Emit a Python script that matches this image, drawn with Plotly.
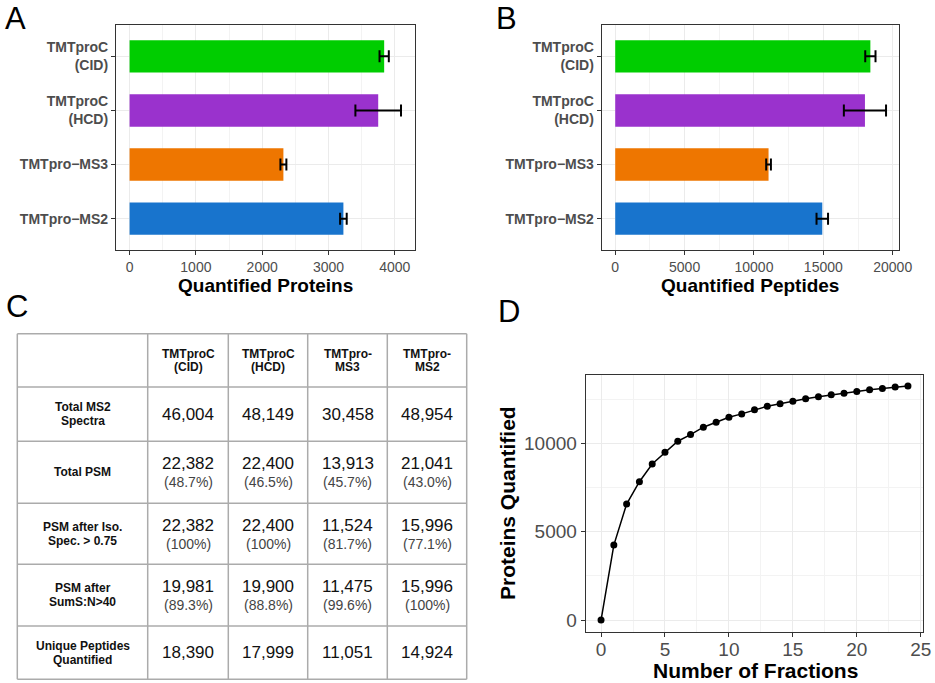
import plotly.graph_objects as go

W, H = 935, 683
def px(x):
    return x / W
def py(y):
    return 1 - y / H

FONT = "Liberation Sans, Arial, sans-serif"
GREY30 = "#4d4d4d"

# ---------------- data ----------------
methods = ["TMTpro−MS2", "TMTpro−MS3", "TMTproC<br>(HCD)", "TMTproC<br>(CID)"]
bar_colors = ["#1874CD", "#EE7600", "#9A32CD", "#00CD00"]
proteins_mean = [3225, 2320, 3750, 3840]
proteins_sd = [50, 45, 344, 70]
peptides_mean = [14924, 11051, 17999, 18390]
peptides_sd = [415, 170, 1520, 370]

fractions = list(range(25))
proteins_cum = [0, 4240, 6560, 7823, 8827, 9490, 10113, 10488, 10907, 11191,
                11474, 11661, 11888, 12097, 12228, 12381, 12511, 12625, 12738,
                12834, 12925, 13022, 13095, 13175, 13231]

table_header = [["TMTproC", "(CID)"], ["TMTproC", "(HCD)"], ["TMTpro-", "MS3"], ["TMTpro-", "MS2"]]
row_labels = [["Total MS2", "Spectra"], ["Total PSM"], ["PSM after Iso.", "Spec. &gt; 0.75"],
              ["PSM after", "SumS:N&gt;40"], ["Unique Peptides", "Quantified"]]
counts = [[46004, 48149, 30458, 48954],
          [22382, 22400, 13913, 21041],
          [22382, 22400, 11524, 15996],
          [19981, 19900, 11475, 15996],
          [18390, 17999, 11051, 14924]]
percents = [None,
            ["48.7%", "46.5%", "45.7%", "43.0%"],
            ["100%", "100%", "81.7%", "77.1%"],
            ["89.3%", "88.8%", "99.6%", "100%"],
            None]

fig = go.Figure()

# ---------------- A & B bars ----------------
for xa, ya, means, sds in [("x", "y", proteins_mean, proteins_sd),
                           ("x2", "y2", peptides_mean, peptides_sd)]:
    fig.add_trace(go.Bar(
        y=methods, x=means, orientation="h", width=0.6,
        marker=dict(color=bar_colors, line=dict(width=0)),
        error_x=dict(type="data", array=sds, symmetric=True, color="black",
                     thickness=2, width=6),
        xaxis=xa, yaxis=ya, showlegend=False))

# ---------------- D line ----------------
fig.add_trace(go.Scatter(
    x=fractions, y=proteins_cum, mode="lines+markers",
    line=dict(color="black", width=1.5),
    marker=dict(color="black", size=7),
    xaxis="x3", yaxis="y3", showlegend=False))

axis_common = dict(showline=True, mirror=True, linecolor="#333333", linewidth=1.1,
                   ticks="outside", ticklen=4, tickcolor="#333333", tickwidth=1.1,
                   showgrid=True, gridcolor="#ebebeb", gridwidth=1.1,
                   zeroline=False, automargin=False)

fig.update_layout(
    width=W, height=H, autosize=False,
    margin=dict(l=0, r=0, t=0, b=0),
    paper_bgcolor="white", plot_bgcolor="white",
    font=dict(family=FONT),
    xaxis=dict(domain=[px(116), px(415)], range=[-205, 4305], anchor="y",
               tick0=0, dtick=1000, tickformat="d",
               tickfont=dict(size=14, color=GREY30),
               minor=dict(dtick=500, showgrid=True, gridcolor="#f3f3f3", gridwidth=0.8),
               **axis_common),
    yaxis=dict(domain=[py(250), py(25)], range=[-0.58, 3.58], anchor="x",
               type="category",
               tickfont=dict(size=14, color=GREY30, weight="bold"),
               **axis_common),
    xaxis2=dict(domain=[px(601.7), px(899.3)], range=[-975, 20475], anchor="y2",
                tick0=0, dtick=5000, tickformat="d",
                tickfont=dict(size=14, color=GREY30),
                minor=dict(dtick=2500, showgrid=True, gridcolor="#f3f3f3", gridwidth=0.8),
                **axis_common),
    yaxis2=dict(domain=[py(250), py(25)], range=[-0.58, 3.58], anchor="x2",
                type="category",
                tickfont=dict(size=14, color=GREY30, weight="bold"),
                **axis_common),
    xaxis3=dict(domain=[px(585.7), px(923.3)], range=[-1.2, 25.2], anchor="y3",
                tick0=0, dtick=5, tickformat="d", ticklabelstandoff=-4,
                tickfont=dict(size=19, color=GREY30),
                minor=dict(dtick=2.5, showgrid=True, gridcolor="#f3f3f3", gridwidth=0.8),
                **axis_common),
    yaxis3=dict(domain=[py(631.7), py(375)], range=[-660, 13860], anchor="x3",
                tick0=0, dtick=5000, tickformat="d",
                tickfont=dict(size=19, color=GREY30),
                minor=dict(dtick=2500, showgrid=True, gridcolor="#f3f3f3", gridwidth=0.8),
                **axis_common),
)

ann = []
def text(x, y, s, size, bold=False, color="black", xanchor="center", angle=0):
    ann.append(dict(x=px(x), y=py(y), xref="paper", yref="paper", text=s,
                    showarrow=False, xanchor=xanchor, yanchor="middle",
                    textangle=angle,
                    font=dict(family=FONT, size=size, color=color,
                              weight="bold" if bold else "normal")))

# panel letters
text(3, 18, "A", 31, xanchor="left")
text(494, 18, "B", 31, xanchor="left")
text(4, 306, "C", 31, xanchor="left")
text(496, 311, "D", 31, xanchor="left")

# axis titles
text(265.5, 285, "Quantified Proteins", 19, bold=True)
text(750, 285, "Quantified Peptides", 19, bold=True)
text(755, 670, "Number of Fractions", 21, bold=True)
text(507, 503, "Proteins Quantified", 21, bold=True, angle=-90)

# ---------------- C table ----------------
col_x = [17.3, 147.7, 228.3, 307.7, 387.3, 466.7]
row_y = [333.7, 387, 441.3, 503.3, 564.3, 626, 679.3]
shapes = []
for yy in row_y:
    shapes.append(dict(type="line", xref="paper", yref="paper",
                       x0=px(col_x[0]), x1=px(col_x[-1]), y0=py(yy), y1=py(yy),
                       line=dict(color="#ababab", width=1.5)))
for xx in col_x:
    shapes.append(dict(type="line", xref="paper", yref="paper",
                       x0=px(xx), x1=px(xx), y0=py(row_y[0]), y1=py(row_y[-1]),
                       line=dict(color="#ababab", width=1.5)))

def cx(i):
    return (col_x[i] + col_x[i + 1]) / 2
def cy(j):
    return (row_y[j] + row_y[j + 1]) / 2

for i, lines in enumerate(table_header):
    yc = cy(0)
    text(cx(i + 1), yc - 6.3, lines[0], 12, bold=True, color="#111111")
    text(cx(i + 1), yc + 6.3, lines[1], 12, bold=True, color="#111111")

for j, lines in enumerate(row_labels):
    yc = cy(j + 1)
    if len(lines) == 1:
        text(cx(0), yc, lines[0], 12, bold=True, color="#111111")
    else:
        text(cx(0), yc - 7, lines[0], 12, bold=True, color="#111111")
        text(cx(0), yc + 7, lines[1], 12, bold=True, color="#111111")
    for i in range(4):
        val = f"{counts[j][i]:,}"
        if percents[j] is None:
            text(cx(i + 1), yc, val, 17, color="#111111")
        else:
            text(cx(i + 1), yc - 8.5, val, 17, color="#111111")
            text(cx(i + 1), yc + 10, f"({percents[j][i]})", 14, color="#444444")

fig.update_layout(annotations=ann, shapes=shapes)
fig.write_html("out.html", config={"displayModeBar": False},
               post_script="document.body.style.margin='0px';document.body.style.padding='0px';")
